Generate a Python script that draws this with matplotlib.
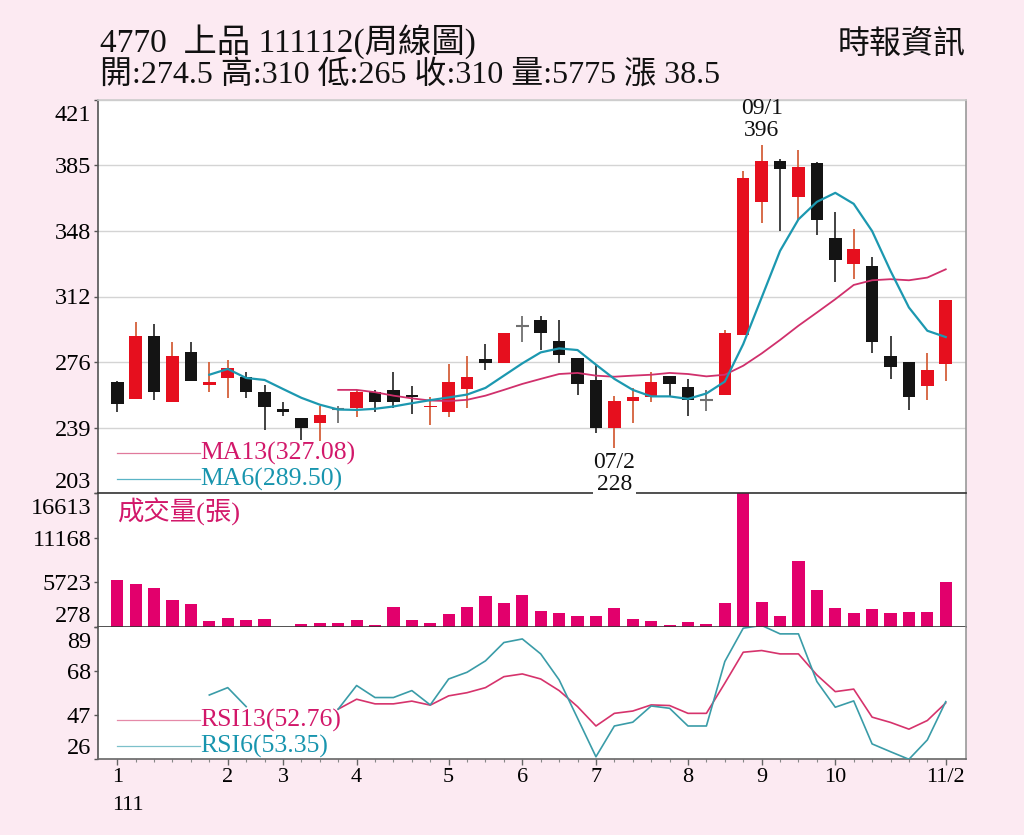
import matplotlib
matplotlib.use("Agg")
import matplotlib.pyplot as plt
import numpy as np
from matplotlib.transforms import ScaledTranslation

plt.rcParams['font.family'] = ['Liberation Serif', 'Noto Sans CJK TC', 'DejaVu Sans']

# ---------------- data ----------------
opens = [264.8, 255.2, 290.2, 253.7, 281.2, 262.7, 266.8, 267.5, 258.9, 249.7,
         244.5, 241.9, 249.7, 250.0, 258.9, 260.2, 257.4, 250.6, 248.2, 260.7,
         277.3, 274.9, 295.8, 298.9, 287.5, 277.9, 265.9, 239.0, 254.3, 256.5,
         267.7, 262.0, 254.8, 257.5, 290.8, 364.5, 387.0, 367.3, 386.1, 344.3,
         329.9, 329.0, 279.2, 275.5, 262.6, 274.5]
highs = [265.0, 297.6, 297.0, 286.5, 286.5, 275.8, 276.8, 270.0, 263.0, 253.3,
         244.8, 251.5, 251.5, 260.2, 260.3, 270.3, 262.6, 256.1, 274.6, 279.2,
         285.6, 292.0, 301.3, 301.3, 299.0, 278.0, 274.2, 257.0, 261.3, 270.3,
         267.7, 266.3, 260.2, 293.4, 381.5, 396.0, 388.0, 393.1, 386.5, 359.0,
         349.3, 333.9, 290.2, 275.5, 280.4, 310.0]
lows = [247.8, 255.0, 254.7, 253.5, 265.0, 258.9, 255.8, 255.8, 238.0, 245.9,
        232.5, 232.0, 241.9, 245.0, 247.8, 250.2, 246.9, 240.8, 245.4, 250.2,
        271.3, 274.9, 286.5, 282.3, 275.1, 257.6, 236.2, 228.0, 241.7, 253.3,
        256.1, 245.9, 248.7, 257.5, 290.8, 352.9, 348.3, 354.2, 346.1, 320.1,
        321.6, 280.4, 266.3, 249.1, 254.7, 265.0]
closes = [252.4, 290.2, 259.2, 279.2, 265.3, 264.8, 272.4, 259.2, 250.9, 248.2,
          239.2, 246.5, 249.7, 258.9, 253.3, 253.3, 256.5, 251.5, 264.4, 267.5,
          274.9, 291.5, 295.8, 291.7, 279.5, 263.5, 239.0, 254.3, 256.1, 264.8,
          263.5, 254.8, 254.8, 291.8, 377.5, 387.0, 383.0, 383.9, 354.4, 332.1,
          338.2, 286.9, 272.7, 256.5, 271.5, 310.0]

ma6 = [None, None, None, None, None, 268.6, 271.8, 266.8, 265.7, 260.7,
       255.8, 252.0, 249.3, 249.1, 249.7, 251.0, 252.8, 254.5, 256.0, 257.6,
       261.3, 268.1, 274.9, 281.0, 283.2, 282.3, 274.2, 266.3, 260.2, 256.6,
       256.6, 255.2, 258.2, 264.8, 285.6, 311.4, 337.3, 354.8, 364.5, 369.5,
       363.4, 348.3, 326.2, 305.9, 293.0, 289.5]
ma13 = [None] * 12 + [260.2, 260.2, 258.9, 257.0, 255.5, 254.3, 254.0, 254.7,
       257.0, 260.2, 263.5, 266.3, 269.0, 269.6, 268.1, 267.5, 268.1, 268.6,
       269.6, 269.0, 267.7, 268.6, 273.6, 280.4, 287.9, 295.8, 303.1, 310.5,
       318.4, 321.0, 321.6, 321.0, 322.5, 327.08]

volume = [5964, 5436, 5026, 3511, 3021, 933, 1260, 1015, 1178, 200,
          605, 646, 646, 1015, 483, 2693, 1015, 646, 1792, 2693,
          4003, 3184, 4125, 2202, 1874, 1588, 1588, 2488, 1178, 933,
          442, 769, 524, 3143, 17800, 3225, 1547, 8342, 4740, 2529,
          1956, 2447, 1915, 2038, 2038, 5775]

rsi6 = [None, None, None, None, None, 56.5, 60.0, 51.0, None, None,
        None, None, 49.8, 61.0, 55.3, 55.3, 58.6, 51.8, 64.1, 67.3,
        72.7, 81.4, 83.1, 76.0, 63.7, 45.5, 27.2, 41.8, 43.6, 51.3,
        50.2, 41.8, 41.8, 72.4, 88.2, 89.5, 85.5, 85.5, 62.9, 50.7,
        53.7, 33.3, 29.6, 26.0, 35.2, 53.35]
rsi13 = [None] * 12 + [49.8, 54.5, 52.3, 52.3, 53.6, 51.7, 56.1, 57.6,
         60.0, 65.2, 66.5, 64.1, 58.6, 51.0, 41.8, 47.8, 48.9, 51.8,
         51.5, 47.8, 47.8, 62.1, 76.8, 77.6, 76.0, 76.0, 66.0, 58.1,
         59.3, 46.0, 43.5, 40.3, 44.4, 52.76]

price_ticks = [203, 239.333, 275.667, 312, 348.333, 384.667, 421]
price_ticklabels = ['203', '239', '276', '312', '348', '385', '421']
vol_ticks = [278, 5723, 11168, 16613]
vol_ticklabels = ['278', '5723', '11168', '16613']
rsi_ticks = [26, 47, 68, 89]
rsi_ticklabels = ['26', '47', '68', '89']
month_pos = [0, 6, 9, 13, 18, 22, 26, 31, 35, 39, 45]
month_labels = ['1', '2', '3', '4', '5', '6', '7', '8', '9', '10', '11/2']
year_label = '111'

title1 = '4770  上品 111112(周線圖)'
title2 = '開:274.5 高:310 低:265 收:310 量:5775 漲 38.5'
source = '時報資訊'
vol_title = '成交量(張)'
hi_label = ('09/1', 35, 396)
lo_label = ('07/2', 27, 228)

# ---------------- style ----------------
BG = '#FCEAF2'
RED = '#E60F1E'
BLACK = '#141414'
RED_WICK = '#D4603A'
BLACK_WICK = '#333333'
DOJI = '#707070'
MA13_C = '#D0306C'
MA6_C = '#1C98B0'
VOL_C = '#E2006C'
RSI13_C = '#D6336C'
RSI6_C = '#3A9CA8'
LEG13_TXT = '#D2186A'
LEG6_TXT = '#1895AE'

W, H = 1024, 835
fig = plt.figure(figsize=(W / 100, H / 100), dpi=100, facecolor=BG)

L, R = 98.3, 966.0


def rect(top, bottom):
    return [L / W, 1 - bottom / H, (R - L) / W, (bottom - top) / H]


ax1 = fig.add_axes(rect(100, 493))
ax2 = fig.add_axes(rect(493, 626.5), sharex=ax1)
ax3 = fig.add_axes(rect(626.5, 759.3), sharex=ax1)
ax1.set_zorder(3)

x = np.arange(len(closes))
o = np.array(opens); c = np.array(closes); h = np.array(highs); lo = np.array(lows)
is_doji = np.abs(c - o) < 0.3
is_up = c > o

body_colors = [RED if u else BLACK for u in is_up]
wick_colors = [DOJI if d else (RED_WICK if u else BLACK_WICK) for d, u in zip(is_doji, is_up)]

ax1.vlines(x, lo, h, colors=wick_colors, linewidth=1.3, zorder=2)
nd = ~is_doji
ax1.bar(x[nd], np.abs(c - o)[nd], bottom=np.minimum(o, c)[nd], width=0.68,
        color=np.array(body_colors)[nd], linewidth=0, zorder=3)
ax1.hlines(o[is_doji], x[is_doji] - 0.34, x[is_doji] + 0.34, colors=DOJI, linewidth=1.5, zorder=3)

ma6_arr = np.array([np.nan if v is None else v for v in ma6])
ma13_arr = np.array([np.nan if v is None else v for v in ma13])
ax1.plot(x, ma13_arr, color=MA13_C, lw=1.3, zorder=4)
ax1.plot(x, ma6_arr, color=MA6_C, lw=1.6, zorder=5)

ax1.set_ylim(203, 421)
ax1.set_xlim(-1.03, 46.1)
ax1.set_yticks(price_ticks, price_ticklabels)
ax1.grid(axis='y', color='#d4d4d4', lw=1.0, zorder=0)
ax1.set_axisbelow(True)

# legends in price panel
for yy, col, tcol, lab in [(0.101, '#E07A9C', LEG13_TXT, f'MA13({ma13[-1]:.2f})'),
                           (0.035, '#5AB4C6', LEG6_TXT, f'MA6({ma6[-1]:.2f})')]:
    ax1.plot([0.0219, 0.1172], [yy, yy], transform=ax1.transAxes, color=col, lw=0.9, zorder=6)
    ax1.text(0.1172, yy, lab, transform=ax1.transAxes, color=tcol, fontsize=18.5,
             va='center', ha='left', zorder=6)

# high/low annotations
ax1.annotate(f'{hi_label[0]}\n{hi_label[2]}', xy=(hi_label[1], hi_label[2]),
             xytext=(0, 4), textcoords='offset pixels', ha='center', va='bottom',
             fontsize=17, linespacing=1.05, color='#111111', zorder=7,
             annotation_clip=False)
ax1.annotate(f'{lo_label[0]}\n{lo_label[2]}', xy=(lo_label[1], lo_label[2]),
             xytext=(0, -4), textcoords='offset pixels', ha='center', va='top',
             fontsize=17, linespacing=1.05, color='#111111', zorder=7,
             annotation_clip=False,
             bbox=dict(facecolor='white', edgecolor='none', pad=0.2))

# ---------------- volume ----------------
ax2.bar(x, volume, width=0.66, color=VOL_C, linewidth=0, zorder=2)
ax2.set_ylim(278, 16613)
ax2.set_yticks(vol_ticks, vol_ticklabels)
ax2.text(0.0219, 0.86, vol_title, transform=ax2.transAxes, color=LEG13_TXT,
         fontsize=19, va='center', ha='left')

# ---------------- RSI ----------------
rsi6_arr = np.array([np.nan if v is None else v for v in rsi6])
rsi13_arr = np.array([np.nan if v is None else v for v in rsi13])
ax3.plot(x, rsi13_arr, color=RSI13_C, lw=1.2, zorder=3)
ax3.plot(x, rsi6_arr, color=RSI6_C, lw=1.2, zorder=4)
ax3.set_ylim(26, 89)
ax3.set_yticks(rsi_ticks, rsi_ticklabels)
for yy, col, tcol, lab in [(0.296, '#E58AA8', LEG13_TXT, f'RSI13({rsi13[-1]:.2f})'),
                           (0.100, '#7CC0CA', LEG6_TXT, f'RSI6({rsi6[-1]:.2f})')]:
    ax3.plot([0.0219, 0.1172], [yy, yy], transform=ax3.transAxes, color=col, lw=0.9)
    ax3.text(0.1172, yy, lab, transform=ax3.transAxes, color=tcol, fontsize=18.5,
             va='center', ha='left')

ax3.set_xticks(month_pos, month_labels)
ax3.set_xticks(x, minor=True)
ax3.tick_params(axis='x', which='major', direction='out', length=4.5, width=1,
                color='#666666', labelsize=16, pad=2)
ax3.tick_params(axis='x', which='minor', direction='out', length=2.5, width=0.8,
                color='#888888')
ax3.annotate(year_label, xy=(-0.3, 0), xycoords=('data', 'axes fraction'),
             xytext=(0, -46), textcoords='offset pixels', ha='left', va='center',
             fontsize=16, annotation_clip=False)

# ---------------- common axis styling ----------------
for ax in (ax1, ax2, ax3):
    ax.set_facecolor('white')
    ax.tick_params(axis='y', direction='out', length=3, width=1, color='#555555',
                   labelsize=17.5, pad=2)
    ax.spines['left'].set_color('#555555')
    ax.spines['right'].set_color('#999999')
    ax.spines['top'].set_color('#cccccc')
    ax.spines['bottom'].set_color('#333333')
    for s in ax.spines.values():
        s.set_linewidth(1.2)
    ticks = ax.yaxis.get_major_ticks()
    ticks[0].label1.set_transform(ticks[0].label1.get_transform()
                                  + ScaledTranslation(0, 13 / 100, fig.dpi_scale_trans))
    ticks[-1].label1.set_transform(ticks[-1].label1.get_transform()
                                   + ScaledTranslation(0, -13 / 100, fig.dpi_scale_trans))

for ax in (ax1, ax2):
    ax.tick_params(axis='x', which='both', bottom=False, labelbottom=False)
ax2.spines['top'].set_visible(False)
ax3.spines['top'].set_visible(False)
ax3.spines['bottom'].set_color('#666666')

# ---------------- titles ----------------
fig.text(100 / W, 1 - 42 / H, title1, fontsize=24, va='center', ha='left', color='#111111')
fig.text(100 / W, 1 - 76 / H, title2, fontsize=23, va='center', ha='left', color='#111111')
fig.text(966 / W, 1 - 45 / H, source, fontsize=23, va='center', ha='right', color='#111111')

fig.savefig('out.png', dpi=100, facecolor=BG)
